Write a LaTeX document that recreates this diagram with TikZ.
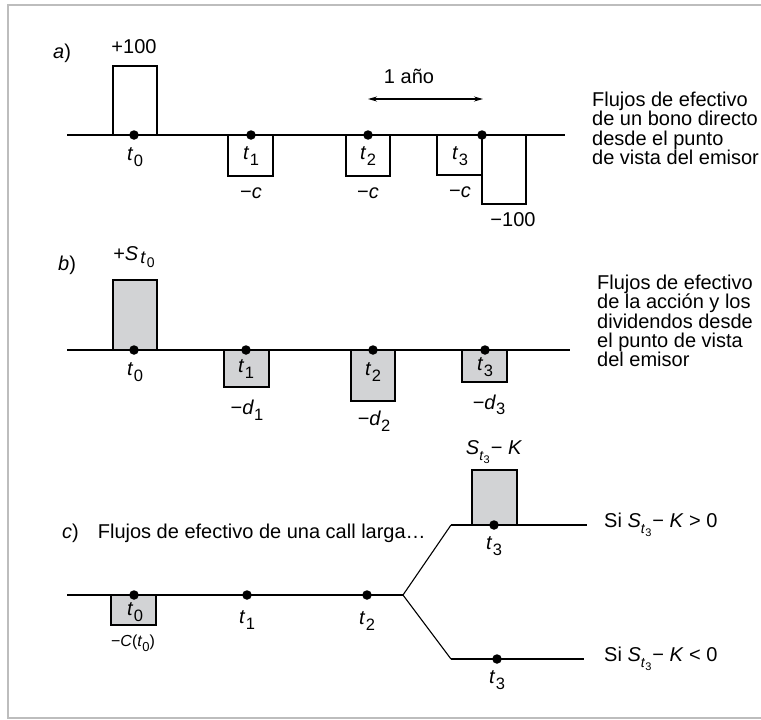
\documentclass[tikz,border=0pt]{standalone}
\usepackage{fontspec}
\setmainfont{Liberation Sans}
\usetikzlibrary{arrows.meta}
\definecolor{boxgray}{HTML}{D2D3D5}
\definecolor{framegray}{HTML}{BDBDBD}
\newcommand{\ti}[1]{\textit{t}\kern0.5pt\raisebox{-0.28em}{\fontsize{16.5}{16.5}\selectfont #1}}
\newcommand{\Sti}[1]{\textit{S}\raisebox{-0.3em}{\fontsize{14}{14}\selectfont\textit{t}\raisebox{-0.25em}{\fontsize{11}{11}\selectfont #1}}}
\newcommand{\Stbig}[1]{\textit{S}\kern2pt\raisebox{-0.15em}{\fontsize{18}{18}\selectfont\textit{t}\kern1pt\raisebox{-0.25em}{\fontsize{14}{14}\selectfont #1}}}
\tikzset{
  axisline/.style={line width=1.3pt},
  bar/.style={line width=2.5pt, line join=miter},
  branch/.style={line width=1.1pt},
  dot/.style={circle, fill=black, inner sep=0pt, minimum size=9.5pt},
  lbl/.style={inner sep=0pt, font=\fontsize{20}{20}\selectfont},
  small/.style={inner sep=0pt, font=\fontsize{16}{16}\selectfont},
  side/.style={inner sep=0pt, align=left, anchor=north west, font=\fontsize{20}{19.3}\selectfont},
}
\begin{document}
\begin{tikzpicture}[x=1pt,y=-1pt]
\useasboundingbox (0,0) rectangle (761,720);
\clip (0,0) rectangle (761,720);
\draw[framegray, line width=2pt] (8,5) rectangle (775,718);

% ---------- a) ----------
\node[lbl, anchor=west] (la) at (53,53) {\textit{a})};
\draw[axisline] (67,135) coordinate (a0) -- (565,135) coordinate (a1);
\draw[bar] (113,135) |- (157,66) -- (157,135);
\draw[bar] (228,135) |- (273,176) -- (273,135);
\draw[bar] (346,135) |- (390,176) -- (390,135);
\draw[bar] (437,135) |- (482,175) (482,135) |- (526,204) -- (526,135);
\node[dot] (ad0) at (134,135) {};
\node[dot] (ad1) at (251,135) {};
\node[dot] (ad2) at (368,135) {};
\node[dot] (ad3) at (482,135) {};
\node[lbl] (ap100) at (134,47) {+100};
\node[lbl] (at0) at (135,157) {\ti{0}};
\node[lbl] (at1) at (251,156) {\ti{1}};
\node[lbl] (at2) at (368,156) {\ti{2}};
\node[lbl] (at3) at (460,156) {\ti{3}};
\node[lbl] (ac1) at (251,193) {−\textit{c}};
\node[lbl] (ac2) at (368,193) {−\textit{c}};
\node[lbl] (ac3) at (460,192) {−\textit{c}};
\node[lbl] (am100) at (513,220) {−100};
\coordinate (arL) at (368,99);
\coordinate (arR) at (483,99);
\draw[line width=1.2pt, {Stealth[length=9pt,width=5pt]}-{Stealth[length=9pt,width=5pt]}] (arL) -- (arR);
\node[lbl] (anio) at (409,76) {1 año};
\node[side] (sa) at (592,92) {Flujos de efectivo\\de un bono directo\\desde el punto\\de vista del emisor};

% ---------- b) ----------
\node[lbl, anchor=west] (lb) at (58,265) {\textit{b})};
\fill[boxgray] (113,280) rectangle (157,350);
\fill[boxgray] (224,350) rectangle (269,387);
\fill[boxgray] (351,350) rectangle (395,401);
\fill[boxgray] (462,350) rectangle (507,382);
\draw[axisline] (67,350) coordinate (b0) -- (570,350) coordinate (b1);
\draw[bar] (113,350) |- (157,280) -- (157,350);
\draw[bar] (224,350) |- (269,387) -- (269,350);
\draw[bar] (351,350) |- (395,401) -- (395,350);
\draw[bar] (462,350) |- (507,382) -- (507,350);
\node[dot] (bd0) at (134,350) {};
\node[dot] (bd1) at (246,350) {};
\node[dot] (bd2) at (373,350) {};
\node[dot] (bd3) at (485,350) {};
\node[lbl] (bS) at (134,257) {+\Stbig{0}};
\node[lbl] (bt0) at (135,372) {\ti{0}};
\node[lbl] (bt1) at (246,369) {\ti{1}};
\node[lbl] (bt2) at (373,372) {\ti{2}};
\node[lbl] (bt3) at (485,367) {\ti{3}};
\node[lbl] (bd1l) at (247,410) {−\textit{d}\raisebox{-0.28em}{\fontsize{16.5}{16.5}\selectfont 1}};
\node[lbl] (bd2l) at (374,421) {−\textit{d}\raisebox{-0.28em}{\fontsize{16.5}{16.5}\selectfont 2}};
\node[lbl] (bd3l) at (489,405) {−\textit{d}\raisebox{-0.28em}{\fontsize{16.5}{16.5}\selectfont 3}};
\node[side] (sb) at (597,275) {Flujos de efectivo\\de la acción y los\\dividendos desde\\el punto de vista\\del emisor};

% ---------- c) ----------
\node[lbl, anchor=west] (lc) at (62,533) {\textit{c})\hspace{19pt}Flujos de efectivo de una call larga…};
\fill[boxgray] (111,595) rectangle (156,625);
\fill[boxgray] (472,470) rectangle (517,525);
\coordinate (c0) at (67,595);
\coordinate (br) at (403,595);
\coordinate (up0) at (451,525);
\coordinate (up1) at (587,525);
\coordinate (dn0) at (451,659);
\coordinate (dn1) at (584,659);
\draw[axisline] (c0) -- (br);
\draw[branch] (br) -- (up0);
\draw[branch] (br) -- (dn0);
\draw[axisline] (up0) -- (up1);
\draw[axisline] (dn0) -- (dn1);
\draw[bar] (111,595) |- (156,625) -- (156,595);
\draw[bar] (472,525) |- (517,470) -- (517,525);
\node[dot] (cd0) at (134,595) {};
\node[dot] (cd1) at (247,595) {};
\node[dot] (cd2) at (367,595) {};
\node[dot] (cu3) at (494,525) {};
\node[dot] (cl3) at (497,659) {};
\node[lbl] (ct0) at (135,612) {\ti{0}};
\node[small] (cC) at (133,643) {−\textit{C}(\textit{t}\raisebox{-0.3em}{\fontsize{13}{13}\selectfont 0})};
\node[lbl] (ct1) at (247,620) {\ti{1}};
\node[lbl] (ct2) at (367,621) {\ti{2}};
\node[lbl] (cut3) at (494,546) {\ti{3}};
\node[lbl] (clt3) at (497,680) {\ti{3}};
\node[lbl] (cSK) at (494,452) {\Sti{3}\kern1pt− \textit{K}};
\node[lbl, anchor=west] (cgt) at (604,525) {Si \Sti{3}\kern1pt− \textit{K} > 0};
\node[lbl, anchor=west] (clt) at (604,659) {Si \Sti{3}\kern1pt− \textit{K} < 0};
\end{tikzpicture}
\end{document}
